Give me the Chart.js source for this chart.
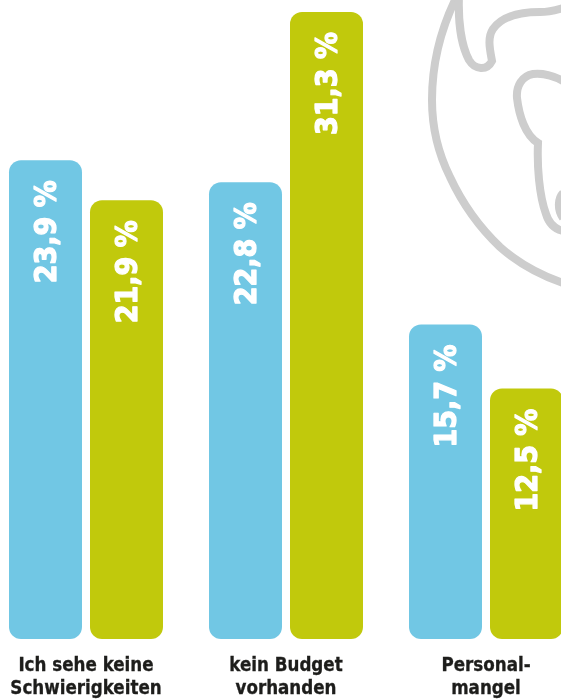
<!DOCTYPE html>
<html><head><meta charset="utf-8">
<style>
html,body{margin:0;padding:0;background:#fff;width:561px;height:700px;overflow:hidden}
#wrap{position:absolute;left:0;top:0;width:561px;height:700px;overflow:hidden}
#globe{position:absolute;left:0;top:0}
#box{position:absolute;left:-14px;top:0;width:600px;height:700px}
</style>
<script src="https://cdn.jsdelivr.net/npm/chart.js@4"></script>
</head><body>
<div id="wrap">
<svg id="globe" width="561" height="700" fill="none" stroke="#cdcdcd" stroke-width="8">
<path d="M457 -4C440 30 432 65 432 100C432 130 439 155 450 177C463 205 480 228 500 247C518 263 540 275 563 283"/>
<path d="M459 -4C458 20 461 45 469 60C475 70 487 71 492 61C490 50 487 38 493 29C502 16 520 12 540 12C550 12 556 10 563 8"/>
<path d="M563 81C552 75 542 73 533 74C522 76 516 86 517 98C519 115 525 135 538 143C537 165 539 195 546 214C549 224 555 229 563 231"/>
<path d="M563 193C558 198 557 210 563 218"/>
</svg>
<div id="box"><canvas id="c" width="600" height="700"></canvas></div>
</div>
<script>
const categories=[["Ich sehe keine","Schwierigkeiten"],["kein Budget","vorhanden"],["Personal-","mangel"]];
const seriesA=[23.9,22.8,15.7];
const seriesB=[21.9,31.3,12.5];
const colorA="#71c7e4";
const colorB="#c1c90c";

const valueLabels={
  id:"valueLabels",
  afterDatasetsDraw(chart){
    const ctx=chart.ctx;
    chart.data.datasets.forEach((ds,i)=>{
      chart.getDatasetMeta(i).data.forEach((bar,j)=>{
        const text=ds.data[j].toFixed(1).replace(".",",")+" %";
        ctx.save();
        ctx.translate(bar.x,bar.y+20);
        ctx.rotate(-Math.PI/2);
        ctx.font='bold 30px "DejaVu Sans Condensed"';
        ctx.fillStyle="#fff";
        ctx.strokeStyle="#fff";
        ctx.lineWidth=1.2;
        ctx.lineJoin="round";
        ctx.textAlign="right";
        ctx.textBaseline="alphabetic";
        ctx.fillText(text,0,10.5);
        ctx.strokeText(text,0,10.5);
        ctx.restore();
      });
    });
  }
};

new Chart(document.getElementById("c"),{
  type:"bar",
  data:{labels:categories,datasets:[
    {label:"A",data:seriesA,backgroundColor:colorA},
    {label:"B",data:seriesB,backgroundColor:colorB}
  ]},
  options:{
    responsive:false,animation:false,
    layout:{padding:{top:12,left:0,right:0,bottom:0}},
    plugins:{legend:{display:false},tooltip:{enabled:false}},
    datasets:{bar:{categoryPercentage:0.81,barPercentage:0.9012,borderRadius:12,borderSkipped:false}},
    scales:{
      x:{
        grid:{display:false},border:{display:false},
        afterFit(s){s.height=61;},
        ticks:{color:"#1d1d1b",textStrokeColor:"#1d1d1b",textStrokeWidth:0.3,font:{family:"DejaVu Sans Condensed",weight:"bold",size:18.6,lineHeight:1.27},padding:7,maxRotation:0,autoSkip:false}
      },
      y:{display:false,min:0,max:31.3}
    }
  },
  plugins:[valueLabels]
});
</script>
</body></html>
